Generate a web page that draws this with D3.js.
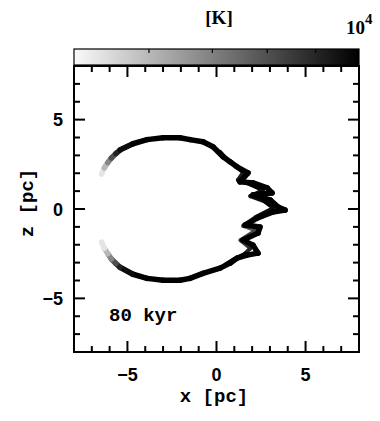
<!DOCTYPE html>
<html>
<head>
<meta charset="utf-8">
<script src="https://cdn.jsdelivr.net/npm/d3@7"></script>
<style>
  html, body { margin: 0; padding: 0; background: #fff; }
  svg { display: block; }
</style>
</head>
<body>
<svg id="chart" width="380" height="421"></svg>
<script>
// Shell outline in the x–z plane [pc], traced from the upper-left tip around to the lower-left tip
const shellX = [-6.45, -6.3, -6.1, -5.9, -5.65, -5.4, -4.69, -3.9, -3.0, -2.05, -1.49, -0.76, -0.2, 0.37, 0.76, 1.15, 1.77, 1.32, 2.05, 2.84, 3.12, 2.05, 3.01, 3.46, 3.85, 3.17, 2.28, 1.6, 2.44, 2.33, 1.49, 2.05, 2.33, 1.71, 1.15, 0.76, 0.2, -0.76, -1.49, -2.05, -3.0, -3.9, -4.69, -5.42, -5.65, -5.9, -6.1, -6.3, -6.45];
const shellZ = [1.95, 2.3, 2.6, 2.85, 3.1, 3.31, 3.65, 3.88, 3.99, 3.99, 3.88, 3.76, 3.48, 2.92, 2.64, 2.36, 2.02, 1.52, 1.46, 1.18, 0.9, 0.79, 0.51, 0.11, -0.06, -0.17, -0.51, -0.9, -1.01, -1.35, -1.74, -2.02, -2.47, -2.58, -2.75, -3.03, -3.31, -3.6, -3.88, -3.99, -3.99, -3.88, -3.65, -3.26, -3.05, -2.8, -2.5, -2.2, -1.85];
// Gas temperature along the shell [K]
const shellT = [5000, 5600, 6400, 7400, 8600, 9600, 10000, 10000, 10000, 10000, 10000, 10000, 10000, 10000, 10000, 10000, 10000, 10000, 10000, 10000, 10000, 10000, 10000, 10000, 10000, 10000, 10000, 10000, 10000, 10000, 10000, 10000, 10000, 10000, 10000, 10000, 10000, 10000, 10000, 10000, 10000, 10000, 10000, 9600, 8600, 7400, 6400, 5600, 5000];

// Inner (trailing) layer of the fragmented front, slightly cooler
const innerX = [0.2, 0.6, 1.0, 1.5, 1.2, 1.9, 2.6, 1.9, 2.7, 3.2, 2.2, 1.5, 2.2, 1.35, 1.9, 1.6, 1.0, 0.5];
const innerZ = [3.2, 2.75, 2.45, 2.05, 1.62, 1.38, 1.05, 0.72, 0.42, 0.05, -0.45, -0.95, -1.2, -1.75, -2.2, -2.5, -2.8, -3.1];
const innerT = [10000, 10000, 10000, 9400, 9000, 10000, 10000, 9200, 10000, 10000, 9600, 8000, 7600, 9000, 8200, 10000, 10000, 10000];

// Axis ticks
const majorTicks = [-5, 0, 5];
const minorTicks = [-7, -6, -4, -3, -2, -1, 1, 2, 3, 4, 6, 7];
const colorbarTicks = [6000, 7000, 8000, 9000];
const tempRange = [5000, 10000];
const timeLabel = "80 kyr";

const svg = d3.select("#chart");
const L = 74, R = 359, T = 66, B = 352;

const x = d3.scaleLinear().domain([-8, 8]).range([L, R]);
const z = d3.scaleLinear().domain([-8, 8]).range([B, T]);
const tLog = d3.scaleLog().domain(tempRange).range([L, R]);
const gray = d3.scaleLog().domain(tempRange).range([0.98, 0.0]).clamp(true);
const shade = t => { const v = Math.round(255 * gray(t)); return `rgb(${v},${v},${v})`; };

// ----- Colour bar -----
const defs = svg.append("defs");
const grad = defs.append("linearGradient").attr("id", "cbar").attr("x1", "0%").attr("x2", "100%");
d3.range(0, 1.0001, 0.05).forEach(f => {
  const t = tLog.invert(L + f * (R - L));
  grad.append("stop").attr("offset", (f * 100) + "%").attr("stop-color", shade(t));
});
const cbT = 49, cbB = 65;
svg.append("rect").attr("x", L).attr("y", cbT).attr("width", R - L).attr("height", cbB - cbT)
  .attr("fill", "url(#cbar)").attr("stroke", "#000").attr("stroke-width", 1.2);
svg.append("g").selectAll("line").data(colorbarTicks).join("line")
  .attr("x1", d => tLog(d)).attr("x2", d => tLog(d))
  .attr("y1", cbT).attr("y2", cbT + 4)
  .attr("stroke", "#000").attr("stroke-width", 1.2);

svg.append("text").attr("x", 219).attr("y", 24).attr("text-anchor", "middle")
  .attr("font-family", "Liberation Serif").attr("font-weight", "bold").attr("font-size", 19)
  .text("[K]");
const tenLbl = svg.append("text").attr("x", 346).attr("y", 34)
  .attr("font-family", "Liberation Serif").attr("font-weight", "bold").attr("font-size", 19);
tenLbl.append("tspan").text("10");
tenLbl.append("tspan").attr("dy", -10).attr("font-size", 15).text("4");

// ----- Shell -----
defs.append("filter").attr("id", "soft").append("feGaussianBlur").attr("stdDeviation", 0.6);
function drawStrand(xs, zs, ts, width) {
  const pts = xs.map((d, i) => ({ x: xs[i], z: zs[i], t: ts[i] }));
  svg.append("g").attr("filter", "url(#soft)")
    .selectAll("line").data(d3.pairs(pts)).join("line")
    .attr("x1", d => x(d[0].x)).attr("y1", d => z(d[0].z))
    .attr("x2", d => x(d[1].x)).attr("y2", d => z(d[1].z))
    .attr("stroke", d => shade((d[0].t + d[1].t) / 2))
    .attr("stroke-width", width)
    .attr("stroke-linecap", "round");
}
drawStrand(innerX, innerZ, innerT, 4);
drawStrand(shellX, shellZ, shellT, 5.5);

// ----- Frame and ticks -----
const frame = svg.append("g").attr("stroke", "#000").attr("stroke-width", 2);
frame.append("rect").attr("x", L).attr("y", T).attr("width", R - L).attr("height", B - T)
  .attr("fill", "none");
const tk = (vals, len) => {
  vals.forEach(v => {
    frame.append("line").attr("x1", x(v)).attr("x2", x(v)).attr("y1", B).attr("y2", B - len);
    frame.append("line").attr("x1", x(v)).attr("x2", x(v)).attr("y1", T).attr("y2", T + len);
    frame.append("line").attr("y1", z(v)).attr("y2", z(v)).attr("x1", L).attr("x2", L + len);
    frame.append("line").attr("y1", z(v)).attr("y2", z(v)).attr("x1", R).attr("x2", R - len);
  });
};
tk(majorTicks, 11);
tk(minorTicks, 6);

const fmt = d => d < 0 ? "\u2212" + Math.abs(d) : String(d);
svg.append("g").selectAll("text").data(majorTicks).join("text")
  .attr("x", d => x(d)).attr("y", 381).attr("text-anchor", "middle")
  .attr("font-family", "Liberation Sans").attr("font-weight", "bold").attr("font-size", 18)
  .text(fmt);
svg.append("g").selectAll("text").data(majorTicks).join("text")
  .attr("x", 63).attr("y", d => z(d) + 6.5).attr("text-anchor", "end")
  .attr("font-family", "Liberation Sans").attr("font-weight", "bold").attr("font-size", 18)
  .text(fmt);

svg.append("text").attr("x", 214).attr("y", 402).attr("text-anchor", "middle")
  .attr("font-family", "Liberation Mono").attr("font-weight", "bold").attr("font-size", 19)
  .text("x [pc]");
svg.append("text").attr("transform", "translate(33,203) rotate(-90)").attr("text-anchor", "middle")
  .attr("font-family", "Liberation Mono").attr("font-weight", "bold").attr("font-size", 19)
  .text("z [pc]");
svg.append("text").attr("x", 109).attr("y", 321)
  .attr("font-family", "Liberation Mono").attr("font-weight", "bold").attr("font-size", 19)
  .text(timeLabel);
</script>
</body>
</html>
